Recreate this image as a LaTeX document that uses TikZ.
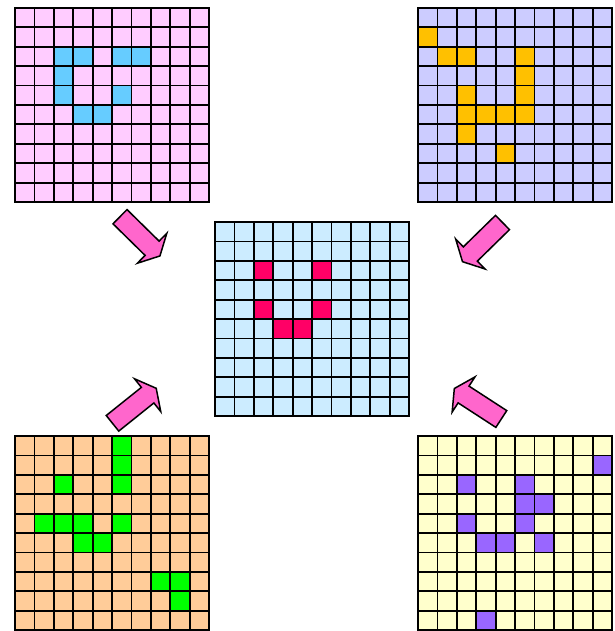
\documentclass[tikz,border=0pt]{standalone}
\definecolor{bgpink}{RGB}{255,204,255}
\definecolor{fgcyan}{RGB}{102,204,255}
\definecolor{bglav}{RGB}{204,204,255}
\definecolor{fgorange}{RGB}{255,192,0}
\definecolor{bgblue}{RGB}{204,236,255}
\definecolor{fgred}{RGB}{255,0,102}
\definecolor{bgpeach}{RGB}{255,204,153}
\definecolor{fggreen}{RGB}{0,255,0}
\definecolor{bgyellow}{RGB}{255,255,204}
\definecolor{fgpurple}{RGB}{153,102,255}
\definecolor{arrowpink}{RGB}{255,102,204}
\tikzset{
  gridline/.style={draw=black, line width=1.8pt, line cap=rect},
  blockarrowstyle/.style={fill=arrowpink, draw=black, line width=1.5pt, line join=miter},
  blockarrow/.pic={\path[blockarrowstyle] (0,-10) -- (45,-10) -- (45,-21) -- (56,0) -- (45,21) -- (45,10) -- (0,10) -- cycle;}
}
\newcommand\gridpanel[5]{%
  \fill[#3] (#1,#2) rectangle ++(194,194);
  \foreach \c/\r in {#5} {\fill[#4] (#1+\c*19.4,#2+\r*19.4) rectangle ++(19.4,19.4);}
  \foreach \i in {0,...,10} {
    \draw[gridline] (#1+\i*19.4,#2) -- ++(0,194);
    \draw[gridline] (#1,#2+\i*19.4) -- ++(194,0);
  }
}
\begin{document}
\begin{tikzpicture}[x=1pt,y=-1pt]
\useasboundingbox (0,0) rectangle (614,631);
% top-left
\gridpanel{15}{8}{bgpink}{fgcyan}{2/2,3/2,5/2,6/2,2/3,2/4,5/4,3/5,4/5}
% top-right
\gridpanel{418}{8}{bglav}{fgorange}{0/1,1/2,2/2,5/2,5/3,2/4,5/4,2/5,3/5,4/5,5/5,2/6,4/7}
% centre
\gridpanel{215}{222}{bgblue}{fgred}{2/2,5/2,2/4,5/4,3/5,4/5}
% bottom-left
\gridpanel{15}{436}{bgpeach}{fggreen}{5/0,5/1,2/2,5/2,1/4,2/4,3/4,5/4,3/5,4/5,7/7,8/7,8/8}
% bottom-right
\gridpanel{418}{436}{bgyellow}{fgpurple}{9/1,2/2,5/2,5/3,6/3,2/4,5/4,3/5,4/5,6/5,3/9}
% arrows
\pic[rotate=-44.5] at (120,216.7) {blockarrow};
\pic[rotate=-135.6] at (502.5,222.5) {blockarrow};
\pic[rotate=38.7] at (112.5,423.3) {blockarrow};
\pic[rotate=147] at (501.3,419) {blockarrow};
\end{tikzpicture}
\end{document}
